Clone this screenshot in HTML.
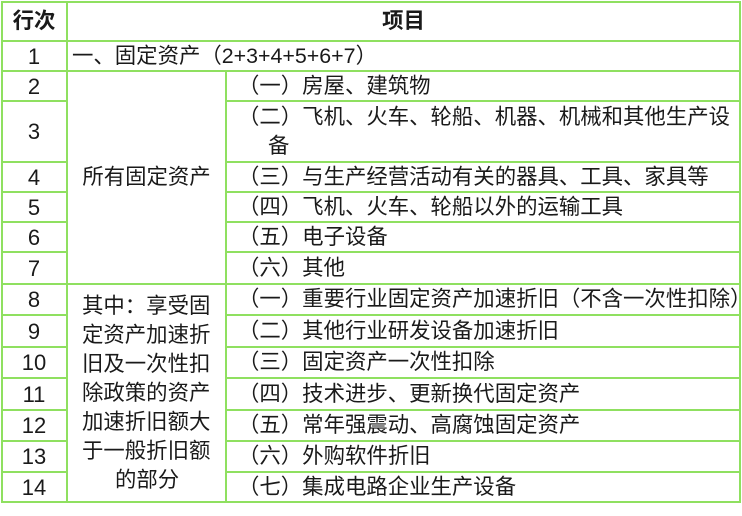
<!DOCTYPE html>
<html><head><meta charset="utf-8"><style>
body{margin:0;width:742px;height:516px;background:#fff;position:relative;overflow:hidden;font-family:"Liberation Sans","Noto Sans CJK SC",sans-serif;color:#1a1a1a;font-size:21.4px}
.h,.v{position:absolute;background:#8fe060}
.h{height:2px}.v{width:2px}
.c{position:absolute;display:flex;align-items:center;white-space:nowrap;line-height:29px}
.n{justify-content:center}
.d{font-size:22px}
</style></head><body>
<div class="h" style="left:1px;width:740px;top:1px"></div>
<div class="h" style="left:1px;width:740px;top:40px"></div>
<div class="h" style="left:1px;width:740px;top:70px"></div>
<div class="h" style="left:1px;width:66px;top:100px"></div><div class="h" style="left:226px;width:515px;top:100px"></div>
<div class="h" style="left:1px;width:66px;top:161px"></div><div class="h" style="left:226px;width:515px;top:161px"></div>
<div class="h" style="left:1px;width:66px;top:191px"></div><div class="h" style="left:226px;width:515px;top:191px"></div>
<div class="h" style="left:1px;width:66px;top:221px"></div><div class="h" style="left:226px;width:515px;top:221px"></div>
<div class="h" style="left:1px;width:66px;top:251px"></div><div class="h" style="left:226px;width:515px;top:251px"></div>
<div class="h" style="left:1px;width:740px;top:283px"></div>
<div class="h" style="left:1px;width:66px;top:314px"></div><div class="h" style="left:226px;width:515px;top:314px"></div>
<div class="h" style="left:1px;width:66px;top:346px"></div><div class="h" style="left:226px;width:515px;top:346px"></div>
<div class="h" style="left:1px;width:66px;top:377px"></div><div class="h" style="left:226px;width:515px;top:377px"></div>
<div class="h" style="left:1px;width:66px;top:409px"></div><div class="h" style="left:226px;width:515px;top:409px"></div>
<div class="h" style="left:1px;width:66px;top:440px"></div><div class="h" style="left:226px;width:515px;top:440px"></div>
<div class="h" style="left:1px;width:66px;top:471px"></div><div class="h" style="left:226px;width:515px;top:471px"></div>
<div class="h" style="left:1px;width:740px;top:501px"></div>
<div class="v" style="left:1px;top:1px;height:502px"></div>
<div class="v" style="left:66px;top:1px;height:502px"></div>
<div class="v" style="left:225px;top:70px;height:433px"></div>
<div class="v" style="left:739px;top:1px;height:502px"></div>
<div class="c n" style="left:2px;top:3px;width:64px;height:37px;font-weight:bold">行次</div>
<div class="c n" style="left:68px;top:3px;width:671px;height:37px;font-weight:bold">项目</div>
<div class="c n d" style="left:2px;top:42px;width:64px;height:28px">1</div>
<div class="c n d" style="left:2px;top:72px;width:64px;height:28px">2</div>
<div class="c n d" style="left:2px;top:102px;width:64px;height:59px">3</div>
<div class="c n d" style="left:2px;top:163px;width:64px;height:28px">4</div>
<div class="c n d" style="left:2px;top:193px;width:64px;height:28px">5</div>
<div class="c n d" style="left:2px;top:223px;width:64px;height:28px">6</div>
<div class="c n d" style="left:2px;top:253px;width:64px;height:30px">7</div>
<div class="c n d" style="left:2px;top:285px;width:64px;height:29px">8</div>
<div class="c n d" style="left:2px;top:316px;width:64px;height:30px">9</div>
<div class="c n d" style="left:2px;top:348px;width:64px;height:29px">10</div>
<div class="c n d" style="left:2px;top:379px;width:64px;height:30px">11</div>
<div class="c n d" style="left:2px;top:411px;width:64px;height:29px">12</div>
<div class="c n d" style="left:2px;top:442px;width:64px;height:29px">13</div>
<div class="c n d" style="left:2px;top:473px;width:64px;height:28px">14</div>
<div class="c" style="left:72px;top:42px;height:28px">一、固定资产（2+3+4+5+6+7）</div>
<div class="c n" style="left:68px;top:163px;width:157px;height:28px">所有固定资产</div>
<div style="position:absolute;left:82px;top:292px;width:135px;line-height:29px;white-space:normal">其中：享受固定资产加速折旧及一次性扣除政策的资产加速折旧额大于一般折旧额<br><span style="padding-left:33px">的部分</span></div>
<div class="c" style="left:238px;top:72px;height:28px">（一）房屋、建筑物</div>
<div style="position:absolute;left:238px;top:103px;line-height:29px;white-space:nowrap">（二）飞机、火车、轮船、机器、机械和其他生产设<br><span style="padding-left:30px">备</span></div>
<div class="c" style="left:238px;top:163px;height:28px">（三）与生产经营活动有关的器具、工具、家具等</div>
<div class="c" style="left:238px;top:193px;height:28px">（四）飞机、火车、轮船以外的运输工具</div>
<div class="c" style="left:238px;top:223px;height:28px">（五）电子设备</div>
<div class="c" style="left:238px;top:253px;height:30px">（六）其他</div>
<div class="c" style="left:238px;top:285px;height:29px">（一）重要行业固定资产加速折旧（不含一次性扣除）</div>
<div class="c" style="left:238px;top:316px;height:30px">（二）其他行业研发设备加速折旧</div>
<div class="c" style="left:238px;top:348px;height:29px">（三）固定资产一次性扣除</div>
<div class="c" style="left:238px;top:379px;height:30px">（四）技术进步、更新换代固定资产</div>
<div class="c" style="left:238px;top:411px;height:29px">（五）常年强震动、高腐蚀固定资产</div>
<div class="c" style="left:238px;top:442px;height:29px">（六）外购软件折旧</div>
<div class="c" style="left:238px;top:473px;height:28px">（七）集成电路企业生产设备</div>
</body></html>
